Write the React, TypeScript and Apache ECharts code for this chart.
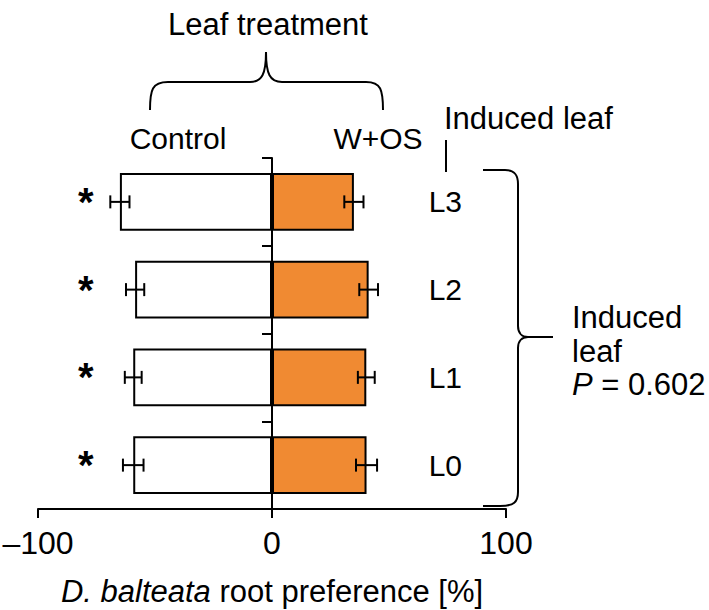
import React, { useEffect, useRef } from 'react';
import * as echarts from 'echarts';

const categories = ['L0', 'L1', 'L2', 'L3'];
const controlValues = [-59.3, -59.3, -58.5, -65.0];
const controlErrors = [4.4, 3.6, 3.9, 4.1];
const wosValues = [40.4, 40.3, 41.3, 35.0];
const wosErrors = [4.5, 3.6, 4.0, 4.1];
const significance = ['*', '*', '*', '*'];
const seriesNames = ['Control', 'W+OS'];
const pText = 'P = 0.602';

const FONT = '"Liberation Sans", Arial, Helvetica, sans-serif';

echarts.graphic.registerShape(
  'braceTop',
  echarts.graphic.extendPath(
    'M150,110 C150,90 152,82 168,82 L250,82 C262,82 266,74 266,52 C266,74 270,82 282,82 L366,82 C381,82 383,90 383,110',
    {}
  )
);
echarts.graphic.registerShape(
  'braceRight',
  echarts.graphic.extendPath(
    'M483,170 L505,170 C514,170 518,174 518,184 L518,326 C518,333 522,337 528,337 L553,337 M528,337 C522,337 518,341 518,348 L518,492 C518,502 514,506 500,506 L483,506',
    {}
  )
);

function errorRender(params: any, api: any) {
  const v = api.value(0);
  const e = api.value(1);
  const c = api.value(2);
  const p1 = api.coord([v - e, c]);
  const p2 = api.coord([v + e, c]);
  const h = 6.5;
  const st = { stroke: '#000', lineWidth: 2 };
  return {
    type: 'group',
    children: [
      { type: 'line', shape: { x1: p1[0], y1: p1[1], x2: p2[0], y2: p2[1] }, style: st },
      { type: 'line', shape: { x1: p1[0], y1: p1[1] - h, x2: p1[0], y2: p1[1] + h }, style: st },
      { type: 'line', shape: { x1: p2[0], y1: p2[1] - h, x2: p2[0], y2: p2[1] + h }, style: st },
    ],
  };
}

export default function App() {
  const ref = useRef<HTMLDivElement>(null);
  useEffect(() => {
    if (!ref.current) return;
    const chart = echarts.init(ref.current, undefined, { renderer: 'svg' });
    const txt = (text: string, x: number, y: number, align = 'center', size = 31, extra: any = {}) => ({
      type: 'text',
      style: {
        text,
        x,
        y,
        fill: '#000',
        fontSize: size,
        fontFamily: FONT,
        textAlign: align,
        textVerticalAlign: 'middle',
        verticalAlign: 'middle',
        ...extra,
      },
      z: 10,
    });
    const option: any = {
      animation: false,
      backgroundColor: '#fff',
      textStyle: { fontFamily: FONT },
      grid: {
        left: 38,
        right: 203,
        top: 158,
        bottom: 101,
        containLabel: false,
        outerBoundsMode: 'none',
      },
      xAxis: {
        type: 'value',
        min: -100,
        max: 100,
        interval: 100,
        axisLine: { show: true, onZero: false, lineStyle: { color: '#000', width: 2 } },
        axisTick: { show: true, inside: false, length: 9, lineStyle: { color: '#000', width: 2 } },
        splitLine: { show: false },
        axisLabel: {
          color: '#000',
          fontSize: 32,
          fontFamily: FONT,
          margin: 18,
          formatter: (v: number) => (v < 0 ? '\u2013' + Math.abs(v) : String(v)),
        },
        name: '{i|D. balteata} root preference [%]',
        nameLocation: 'middle',
        nameGap: 67,
        nameTextStyle: {
          color: '#000',
          fontSize: 31,
          fontFamily: FONT,
          rich: {
            i: { fontStyle: 'italic', fontSize: 31, fontFamily: FONT, color: '#000' },
          },
        },
      },
      yAxis: [
        {
          type: 'category',
          data: categories,
          axisLine: { show: true, onZero: true, lineStyle: { color: '#000', width: 2 } },
          axisTick: { show: true, inside: false, length: 10, lineStyle: { color: '#000', width: 2 } },
          axisLabel: { show: false },
          splitLine: { show: false },
        },
        {
          type: 'category',
          data: categories,
          position: 'right',
          axisLine: { show: false, onZero: false },
          axisTick: { show: false },
          axisLabel: {
            inside: true,
            margin: 44,
            color: '#000',
            fontSize: 30,
            fontFamily: FONT,
          },
          splitLine: { show: false },
        },
        {
          type: 'category',
          data: categories,
          position: 'left',
          axisLine: { show: false, onZero: false },
          axisTick: { show: false },
          axisLabel: {
            inside: true,
            margin: 40,
            color: '#000',
            fontSize: 40,
            fontWeight: 'bold',
            fontFamily: FONT,
            padding: [28, 0, 0, 0],
            formatter: (_v: string, idx: number) => significance[idx],
          },
          splitLine: { show: false },
        },
      ],
      series: [
        {
          name: seriesNames[0],
          type: 'bar',
          data: controlValues,
          barWidth: '66%',
          barGap: '-100%',
          itemStyle: { color: '#ffffff', borderColor: '#000', borderWidth: 2 },
          z: 2,
        },
        {
          name: seriesNames[1],
          type: 'bar',
          data: wosValues,
          barWidth: '66%',
          barGap: '-100%',
          itemStyle: { color: '#F08A32', borderColor: '#000', borderWidth: 2 },
          z: 2,
        },
        {
          type: 'custom',
          renderItem: errorRender,
          data: categories.map((_c, i) => [controlValues[i], controlErrors[i], i]),
          encode: { x: 0, y: 2 },
          z: 5,
        },
        {
          type: 'custom',
          renderItem: errorRender,
          data: categories.map((_c, i) => [wosValues[i], wosErrors[i], i]),
          encode: { x: 0, y: 2 },
          z: 5,
        },
      ],
      graphic: [
        txt('Leaf treatment', 268, 24, 'center', 31),
        {
          type: 'braceTop',
          x: 0,
          y: 0,
          style: { stroke: '#000', lineWidth: 2, fill: 'none' },
        },
        txt(seriesNames[0], 178, 138, 'center', 30),
        txt(seriesNames[1], 378, 138, 'center', 30),
        txt('Induced leaf', 444, 118, 'left', 31),
        {
          type: 'line',
          shape: { x1: 446, y1: 140, x2: 446, y2: 172 },
          style: { stroke: '#000', lineWidth: 2 },
        },
        {
          type: 'braceRight',
          x: 0,
          y: 0,
          style: { stroke: '#000', lineWidth: 2, fill: 'none' },
        },
        txt('Induced', 572, 317, 'left', 31),
        txt('leaf', 572, 351, 'left', 31),
        txt('{i|P}' + pText.slice(1), 572, 384, 'left', 31, {
          rich: { i: { fontStyle: 'italic', fontSize: 31, fontFamily: FONT, fill: '#000' } },
        }),
      ],
    };
    chart.setOption(option);
    return () => chart.dispose();
  }, []);
  return (
    <div
      ref={ref}
      style={{ position: 'fixed', left: 0, top: 0, width: 709, height: 610, background: '#fff' }}
    />
  );
}
